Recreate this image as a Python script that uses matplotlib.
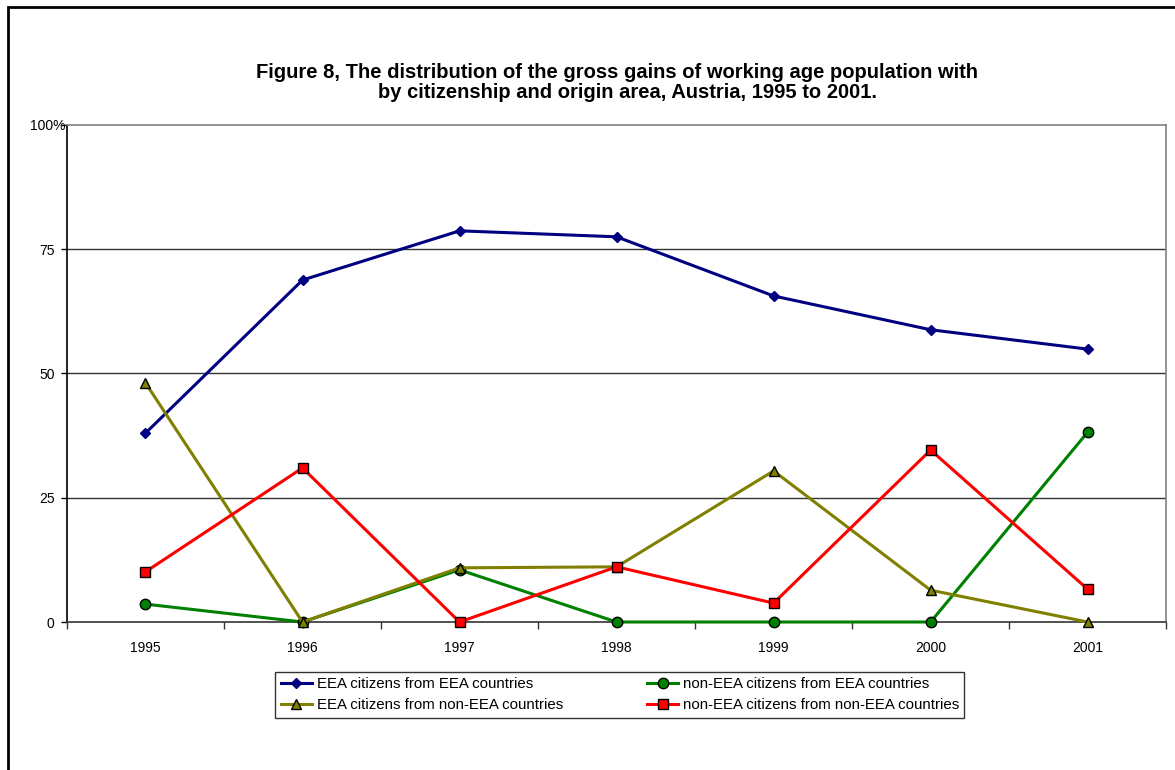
from matplotlib import pyplot as plt
from matplotlib.patches import Rectangle
from matplotlib.transforms import ScaledTranslation
import numpy as np

plt.rcParams['font.family'] = ['Liberation Sans', 'DejaVu Sans']

years = ['1995', '1996', '1997', '1998', '1999', '2000', '2001']
eea_from_eea = [38.0, 68.8, 78.7, 77.5, 65.6, 58.8, 54.9]
noneea_from_eea = [3.6, 0.0, 10.5, 0.0, 0.0, 0.0, 38.2]
eea_from_noneea = [48.1, 0.0, 10.9, 11.1, 30.4, 6.4, 0.0]
noneea_from_noneea = [10.1, 31.0, 0.0, 11.1, 3.8, 34.6, 6.6]

series = [
    ('EEA citizens from EEA countries', eea_from_eea, '#000080', 'D', 5.5),
    ('non-EEA citizens from EEA countries', noneea_from_eea, '#008000', 'o', 7.5),
    ('EEA citizens from non-EEA countries', eea_from_noneea, '#808000', '^', 7.5),
    ('non-EEA citizens from non-EEA countries', noneea_from_noneea, '#FF0000', 's', 7.5),
]

fig = plt.figure(figsize=(11.75, 7.7), dpi=100)
ax = fig.add_axes([0.057, 0.1922, 0.9355, 0.6455])

x = np.arange(len(years))
handles = []
for name, vals, color, marker, ms in series:
    edge = '#000080' if marker == 'D' else 'black'
    line, = ax.plot(x, vals, color=color, linewidth=2.2, marker=marker, markersize=ms,
                    markerfacecolor=color, markeredgecolor=edge, markeredgewidth=1.0,
                    label=name, clip_on=False, zorder=3)
    handles.append(line)

ax.set_xlim(-0.5, len(years) - 0.5)
ax.set_ylim(0, 100)
ax.set_yticks([0, 25, 50, 75, 100])
ax.set_yticklabels(['0', '25', '50', '75', '100%'])
ax.set_xticks(x)
ax.set_xticklabels(years)
ax.set_xticks(np.arange(len(years) + 1) - 0.5, minor=True)
ax.tick_params(axis='x', which='major', length=0, pad=14, labelsize=10)
ax.tick_params(axis='x', which='minor', length=5, width=1, color='#333333')
ax.tick_params(axis='y', length=4, width=1, pad=5, labelsize=10)

# let the % sign hang past the other labels
top_lbl = ax.get_yticklabels()[-1]
top_lbl.set_transform(top_lbl.get_transform() + ScaledTranslation(8 / 72, 0, fig.dpi_scale_trans))

for v in [25, 50, 75]:
    ax.axhline(v, color='#333333', linewidth=1.0, zorder=1)
ax.spines['left'].set_color('black')
ax.spines['bottom'].set_color('#333333')
ax.spines['top'].set_color('#808080')
ax.spines['right'].set_color('#808080')
for sp in ax.spines.values():
    sp.set_linewidth(1.2)

fig.text(0.525, 1 - 72 / 770, 'Figure 8, The distribution of the gross gains of working age population with',
         ha='center', va='center', fontsize=14.5, fontweight='bold')
fig.text(0.534, 1 - 92 / 770, 'by citizenship and origin area, Austria, 1995 to 2001.',
         ha='center', va='center', fontsize=14.5, fontweight='bold')

# row-wise order: EEA/EEA, non-EEA/EEA on top row
order = [0, 2, 1, 3]
leg = ax.legend([handles[i] for i in order], [series[i][0] for i in order],
                loc='upper center', bbox_to_anchor=(0.503, -0.1), ncol=2, fontsize=10.8,
                frameon=True, fancybox=False, edgecolor='black', columnspacing=5.6,
                handlelength=2.1, handletextpad=0.3, borderpad=0.35, labelspacing=0.5,
                borderaxespad=0)
leg.get_frame().set_linewidth(1.0)

# outer chart border
fig.patches.append(Rectangle((8 / 1175, -0.1), 1.2, 1 - 7 / 770 + 0.1, transform=fig.transFigure,
                             fill=False, edgecolor='black', linewidth=2.0))

fig.savefig('out.png', dpi=100)
